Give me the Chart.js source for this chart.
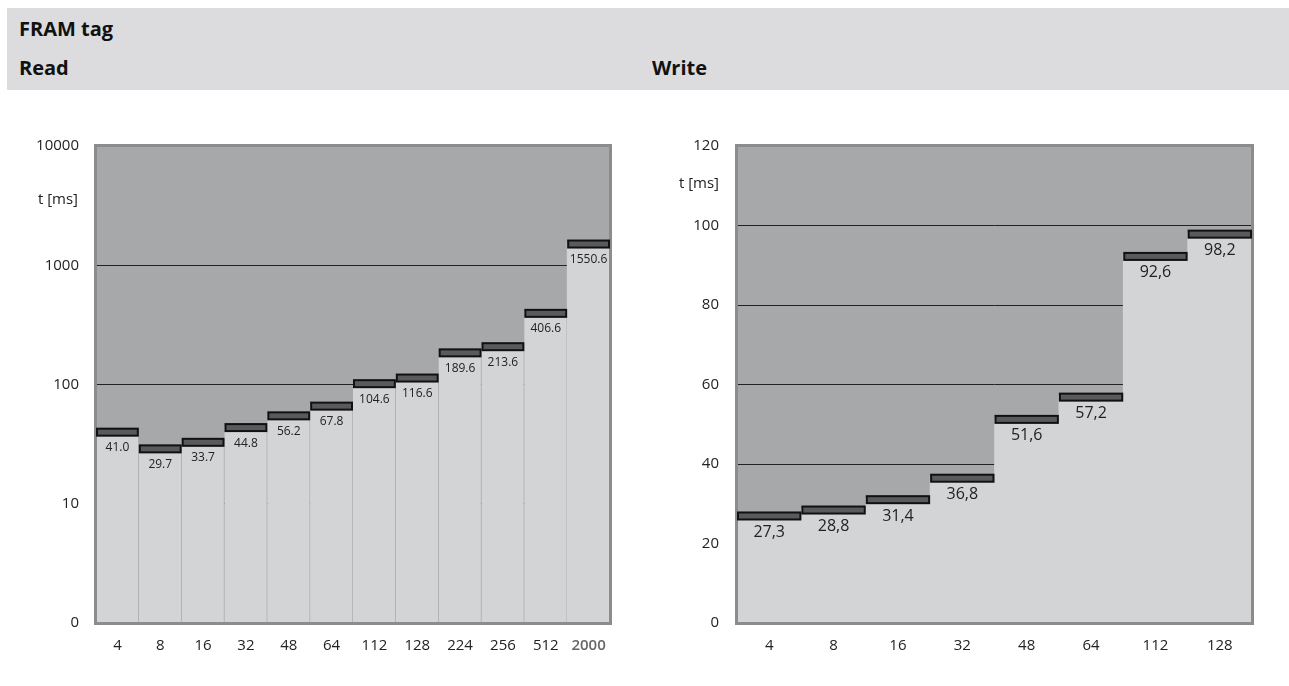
<!DOCTYPE html>
<html>
<head>
<meta charset="utf-8">
<script src="https://cdn.jsdelivr.net/npm/chart.js@4/dist/chart.umd.min.js"></script>
<style>
  html, body { margin: 0; padding: 0; background: #fff; width: 1289px; height: 686px; overflow: hidden; font-family: "Open Sans", sans-serif; }
  #hdr { position: absolute; left: 7px; top: 8px; width: 1282px; height: 82px; background: #dcdcde; }
  .h { position: absolute; font-weight: 700; font-size: 20px; color: #111; line-height: 1; }
  #wl { position: absolute; left: 0; top: 100px; width: 640px; height: 560px; }
  #wr { position: absolute; left: 640px; top: 100px; width: 649px; height: 560px; }
</style>
</head>
<body>
<div id="hdr"></div>
<div class="h" style="left:19px; top:19px;">FRAM tag</div>
<div class="h" style="left:19px; top:58px;">Read</div>
<div class="h" style="left:652px; top:58px;">Write</div>
<div id="wl"><canvas id="cl"></canvas></div>
<div id="wr"><canvas id="cr"></canvas></div>
<script>
// ---- data ----
const readCategories = ["4", "8", "16", "32", "48", "64", "112", "128", "224", "256", "512", "2000"];
const readValues = [41.0, 29.7, 33.7, 44.8, 56.2, 67.8, 104.6, 116.6, 189.6, 213.6, 406.6, 1550.6];
const readLabels = ["41.0", "29.7", "33.7", "44.8", "56.2", "67.8", "104.6", "116.6", "189.6", "213.6", "406.6", "1550.6"];
const readTickValues = [1, 10, 100, 1000, 10000];
const readTickLabels = ["0", "10", "100", "1000", "10000"];

const writeCategories = ["4", "8", "16", "32", "48", "64", "112", "128"];
const writeValues = [27.3, 28.8, 31.4, 36.8, 51.6, 57.2, 92.6, 98.2];
const writeLabels = ["27,3", "28,8", "31,4", "36,8", "51,6", "57,2", "92,6", "98,2"];

const yTitle = "t [ms]";

// ---- styles ----
const FONT = "'Open Sans', sans-serif";
const PLOT_BG = "#a7a8aa";
const BAR_FILL = "#d3d4d6";
const FRAME = "#8c8c8e";
const MARK_FILL = "#5a5a5c";

function makePlugin(labels, labelFont, labelOffset, titleDy) {
  return {
    id: 'deco',
    beforeDraw(chart) {
      const a = chart.chartArea, ctx = chart.ctx;
      ctx.save();
      ctx.fillStyle = PLOT_BG;
      ctx.fillRect(a.left, a.top, a.right - a.left, a.bottom - a.top);
      ctx.restore();
    },
    afterDraw(chart) {
      const a = chart.chartArea, ctx = chart.ctx;
      ctx.save();
      ctx.strokeStyle = FRAME;
      ctx.lineWidth = 3;
      ctx.strokeRect(a.left - 0.5, a.top - 0.5, a.right - a.left + 1, a.bottom - a.top + 1);
      const meta = chart.getDatasetMeta(0);
      meta.data.forEach((bar, i) => {
        const w = bar.width;
        const x0 = bar.x - w / 2;
        ctx.fillStyle = MARK_FILL;
        ctx.strokeStyle = "#111";
        ctx.lineWidth = 2;
        ctx.fillRect(x0 + 1, bar.y - 2, w - 2, 7);
        ctx.strokeRect(x0 + 1, bar.y - 2, w - 2, 7);
        ctx.fillStyle = "#222";
        ctx.font = labelFont;
        ctx.textAlign = "center";
        ctx.textBaseline = "middle";
        ctx.fillText(labels[i], bar.x, bar.y + labelOffset);
      });
      ctx.fillStyle = "#222";
      ctx.font = "15px " + FONT;
      ctx.textAlign = "right";
      ctx.textBaseline = "middle";
      ctx.fillText(yTitle, a.left - 18, a.top + titleDy);
      ctx.restore();
    }
  };
}

// ---- Read chart (log) ----
new Chart(document.getElementById('cl'), {
  type: 'bar',
  data: {
    labels: readCategories,
    datasets: [{
      data: readValues,
      backgroundColor: BAR_FILL,
      borderColor: "#a9a9ab",
      borderWidth: readValues.map((v, i) => i < readValues.length - 1 ? {left: 0, right: 1, top: 0, bottom: 0} : 0),
      borderSkipped: false,
      barPercentage: 1,
      categoryPercentage: 1,
      base: 1
    }]
  },
  options: {
    responsive: true,
    maintainAspectRatio: false,
    animation: false,
    events: [],
    layout: { padding: { top: 46, right: 30, left: 0, bottom: 0 } },
    plugins: { legend: { display: false }, tooltip: { enabled: false } },
    scales: {
      x: {
        grid: { display: false, drawTicks: false },
        border: { display: false },
        ticks: {
          padding: 14,
          font: (c) => ({ family: FONT, size: 15, weight: c.index === readCategories.length - 1 ? '600' : '400' }),
          color: (c) => c.index === readCategories.length - 1 ? '#666' : '#222'
        },
        afterFit(s) { s.height = 37; }
      },
      y: {
        type: 'logarithmic',
        min: 1, max: 10000,
        z: 1,
        afterBuildTicks(s) { s.ticks = readTickValues.map(v => ({ value: v })); },
        grid: {
          drawTicks: false,
          color: (c) => (c.tick && (c.tick.value === 1 || c.tick.value === 10000)) ? 'rgba(0,0,0,0)' : '#222',
          lineWidth: 1
        },
        border: { display: false },
        ticks: {
          padding: 17,
          font: { family: FONT, size: 15 },
          color: '#222',
          callback: (v) => readTickLabels[readTickValues.indexOf(v)]
        },
        afterFit(s) { s.width = 96; }
      }
    }
  },
  plugins: [makePlugin(readLabels, "12px " + FONT, 17, 54)]
});

// ---- Write chart (linear) ----
new Chart(document.getElementById('cr'), {
  type: 'bar',
  data: {
    labels: writeCategories,
    datasets: [{
      data: writeValues,
      backgroundColor: BAR_FILL,
      borderWidth: 0,
      barPercentage: 1,
      categoryPercentage: 1
    }]
  },
  options: {
    responsive: true,
    maintainAspectRatio: false,
    animation: false,
    events: [],
    layout: { padding: { top: 46, right: 37, left: 0, bottom: 0 } },
    plugins: { legend: { display: false }, tooltip: { enabled: false } },
    scales: {
      x: {
        grid: { display: false, drawTicks: false },
        border: { display: false },
        ticks: { padding: 14, font: { family: FONT, size: 15 }, color: '#222' },
        afterFit(s) { s.height = 37; }
      },
      y: {
        min: 0, max: 120,
        z: 1,
        grid: {
          drawTicks: false,
          color: (c) => (c.tick && (c.tick.value === 0 || c.tick.value === 120)) ? 'rgba(0,0,0,0)' : '#222',
          lineWidth: 1
        },
        border: { display: false },
        ticks: { stepSize: 20, padding: 18, font: { family: FONT, size: 15 }, color: '#222' },
        afterFit(s) { s.width = 97; }
      }
    }
  },
  plugins: [makePlugin(writeLabels, "16px " + FONT, 18, 38)]
});
</script>
</body>
</html>
